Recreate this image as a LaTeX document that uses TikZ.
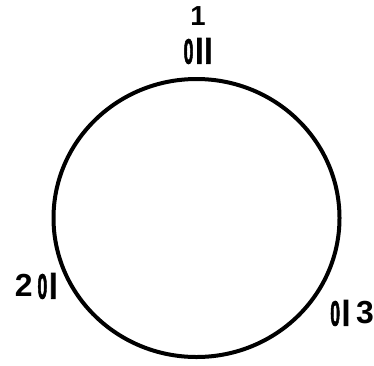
\documentclass[tikz,border=0pt]{standalone}
\usepackage{fontspec}
\usepackage{graphicx}
\setmainfont{Liberation Sans}
\newfontfamily\heavyfont[FakeBold=2.5]{Liberation Sans Bold}
\usetikzlibrary{shapes.geometric}
\newcommand{\myo}{{\heavyfont\scalebox{0.8}[1.6]{0}}}
\newcommand{\myl}{{\heavyfont\scalebox{1.3}[1.6]{l}}}
\newcommand{\mydig}[1]{\raisebox{2pt}{\scalebox{1.45}{#1}}}
\tikzset{
  lbl/.style={inner sep=0pt, font=\fontsize{22pt}{22pt}\selectfont\bfseries},
  ring/.style={draw, ellipse, line width=4pt, inner sep=0pt}
}
\begin{document}
\begin{tikzpicture}[x=1pt,y=-1pt]
\useasboundingbox[fill=white] (0,0) rectangle (374,365);
\node[ring, minimum width=286pt, minimum height=278pt] (c) at (196.5,218) {};
\node[lbl] (one) at (198,16) {\scalebox{1.25}{1}};
\node[lbl] (top) at (198,51) {\myo\hspace{2pt}\myl\hspace{1pt}\myl};
\node[lbl] (left) at (36,286) {\mydig{2}\hspace{5pt}\myo\hspace{2pt}\myl};
\node[lbl] (right) at (352,313) {\myo\hspace{2pt}\myl\hspace{6pt}\mydig{3}};
\end{tikzpicture}
\end{document}
